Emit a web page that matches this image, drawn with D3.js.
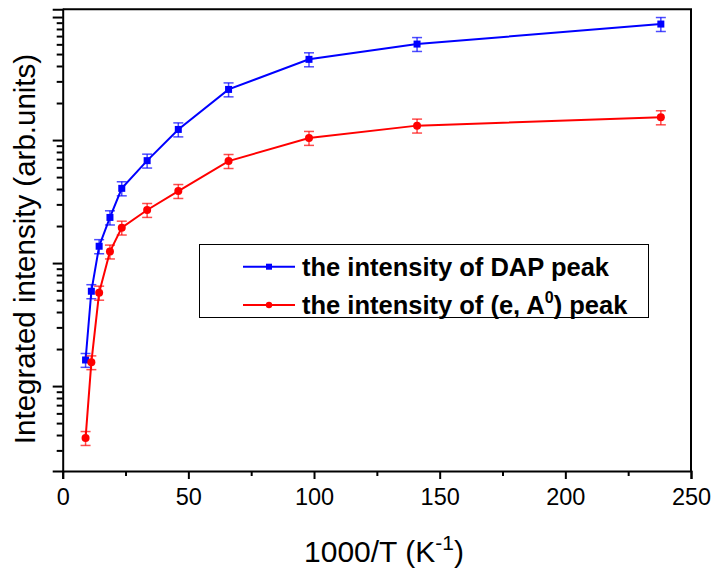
<!DOCTYPE html>
<html>
<head>
<meta charset="utf-8">
<script src="https://cdn.jsdelivr.net/npm/d3@7"></script>
<style>
  html, body { margin: 0; padding: 0; background: #fff; }
  svg { display: block; font-family: "Liberation Sans", Arial, sans-serif; }
</style>
</head>
<body>
<svg id="chart" width="712" height="575"></svg>
<script>
// Inverse temperature, 1000/T (K^-1)
const invT = [9.1, 11.4, 14.5, 18.8, 23.5, 33.6, 46, 66, 98, 141, 238];

// Integrated intensity of the DAP peak (arb. units) and its error
const dapIntensity = [16.3, 59, 137, 235, 405, 680, 1220, 2580, 4530, 6030, 8770];
const dapError     = [2.1, 7.7, 18, 31, 53, 88, 159, 335, 590, 780, 1140];

// Integrated intensity of the (e, A0) peak (arb. units) and its error
const eaIntensity = [3.78, 15.6, 57.4, 124, 194, 270, 385, 675, 1040, 1310, 1530];
const eaError     = [0.49, 2.0, 7.5, 16, 25, 35, 50, 88, 135, 170, 200];

// Axis ticks
const xMajorTicks = [0, 50, 100, 150, 200, 250];
const xMinorTicks = [25, 75, 125, 175, 225];
const yMajorTicks = [10, 100, 1000, 10000];
const yMinorTicks = [3, 4, 5, 6, 7, 8, 9,
  20, 30, 40, 50, 60, 70, 80, 90,
  200, 300, 400, 500, 600, 700, 800, 900,
  2000, 3000, 4000, 5000, 6000, 7000, 8000, 9000];

const series = [
  { name: "dap", color: "#0000ff", marker: "square", values: dapIntensity, errors: dapError },
  { name: "ea",  color: "#ff0000", marker: "circle", values: eaIntensity,  errors: eaError }
];

const svg = d3.select("#chart");
const plotL = 62.7, plotR = 691, plotT = 9.3, plotB = 471;

const x = d3.scaleLinear().domain([0, 250]).range([plotL, plotR]);
const y = d3.scaleLog().domain([2.04, 11560]).range([plotB, plotT]);

// Frame (top and right edges)
svg.append("path")
  .attr("d", `M${plotL},${plotT}H${plotR}V${plotB}`)
  .attr("fill", "none").attr("stroke", "#000").attr("stroke-width", 2);

// X axis
const xAxisMajor = d3.axisBottom(x).tickValues(xMajorTicks).tickSize(8).tickPadding(9)
  .tickFormat(d3.format("d"));
const gx = svg.append("g").attr("transform", `translate(0,${plotB})`).call(xAxisMajor);
gx.select(".domain").attr("stroke-width", 2);
gx.selectAll(".tick line").attr("stroke-width", 2);
gx.selectAll(".tick text").attr("font-size", 23.5).attr("fill", "#000")
  .attr("font-family", "Liberation Sans, Arial, sans-serif");

const gxm = svg.append("g").attr("transform", `translate(0,${plotB})`)
  .call(d3.axisBottom(x).tickValues(xMinorTicks).tickSize(5).tickFormat(""));
gxm.select(".domain").remove();
gxm.selectAll(".tick line").attr("stroke-width", 2);

// Y axis (log scale, no labels)
const gy = svg.append("g").attr("transform", `translate(${plotL},0)`)
  .call(d3.axisLeft(y).tickValues(yMajorTicks).tickSize(10).tickFormat(""));
gy.select(".domain").attr("stroke-width", 2);
gy.selectAll(".tick line").attr("stroke-width", 2);

const gym = svg.append("g").attr("transform", `translate(${plotL},0)`)
  .call(d3.axisLeft(y).tickValues(yMinorTicks).tickSize(6).tickFormat(""));
gym.select(".domain").remove();
gym.selectAll(".tick line").attr("stroke-width", 2);

// Axis titles
svg.append("text")
  .attr("transform", `translate(35,249) rotate(-90)`)
  .attr("text-anchor", "middle")
  .attr("font-size", 29.5)
  .text("Integrated intensity (arb.units)");

const xt = svg.append("text")
  .attr("x", 384).attr("y", 562)
  .attr("text-anchor", "middle")
  .attr("font-size", 30);
xt.append("tspan").text("1000/T (K");
xt.append("tspan").attr("font-size", 21).attr("dy", -12).text("-1");
xt.append("tspan").attr("dy", 12).text(")");

// Series: lines, error bars, markers
const line = d3.line().x((d, i) => x(invT[i])).y(d => y(d));

series.forEach(s => {
  const g = svg.append("g");
  g.append("path")
    .attr("d", line(s.values))
    .attr("fill", "none").attr("stroke", s.color).attr("stroke-width", 2);

  const eb = g.selectAll(".err").data(s.values).enter().append("g")
    .attr("stroke", s.color).attr("stroke-width", 1.5).attr("stroke-opacity", 0.7);
  eb.append("line")
    .attr("x1", (d, i) => x(invT[i])).attr("x2", (d, i) => x(invT[i]))
    .attr("y1", (d, i) => y(d + s.errors[i])).attr("y2", (d, i) => y(d - s.errors[i]));
  eb.append("line")
    .attr("x1", (d, i) => x(invT[i]) - 5).attr("x2", (d, i) => x(invT[i]) + 5)
    .attr("y1", (d, i) => y(d + s.errors[i])).attr("y2", (d, i) => y(d + s.errors[i]));
  eb.append("line")
    .attr("x1", (d, i) => x(invT[i]) - 5).attr("x2", (d, i) => x(invT[i]) + 5)
    .attr("y1", (d, i) => y(d - s.errors[i])).attr("y2", (d, i) => y(d - s.errors[i]));

  if (s.marker === "square") {
    g.selectAll(".pt").data(s.values).enter().append("rect")
      .attr("x", (d, i) => x(invT[i]) - 3.5).attr("y", d => y(d) - 3.5)
      .attr("width", 7).attr("height", 7).attr("fill", s.color);
  } else {
    g.selectAll(".pt").data(s.values).enter().append("circle")
      .attr("cx", (d, i) => x(invT[i])).attr("cy", d => y(d))
      .attr("r", 4).attr("fill", s.color);
  }
});

// Legend
const lg = svg.append("g");
lg.append("rect")
  .attr("x", 199.5).attr("y", 244.5).attr("width", 449).attr("height", 73)
  .attr("fill", "#fff").attr("stroke", "#000").attr("stroke-width", 1);

const legendRows = [
  { s: series[0], y: 266.7 },
  { s: series[1], y: 305 }
];
legendRows.forEach(r => {
  lg.append("line").attr("x1", 243).attr("x2", 295).attr("y1", r.y).attr("y2", r.y)
    .attr("stroke", r.s.color).attr("stroke-width", 2);
  if (r.s.marker === "square") {
    lg.append("rect").attr("x", 266).attr("y", r.y - 3).attr("width", 6).attr("height", 6)
      .attr("fill", r.s.color);
  } else {
    lg.append("circle").attr("cx", 269).attr("cy", r.y).attr("r", 3.2).attr("fill", r.s.color);
  }
});

lg.append("text").attr("x", 302).attr("y", 276)
  .attr("font-size", 25.5).attr("font-weight", "bold")
  .text("the intensity of DAP peak");
const t2 = lg.append("text").attr("x", 302).attr("y", 314.3)
  .attr("font-size", 25.5).attr("font-weight", "bold");
t2.append("tspan").text("the intensity of (e, A");
t2.append("tspan").attr("font-size", 16).attr("dy", -11).text("0");
t2.append("tspan").attr("dy", 11).text(") peak");
</script>
</body>
</html>
